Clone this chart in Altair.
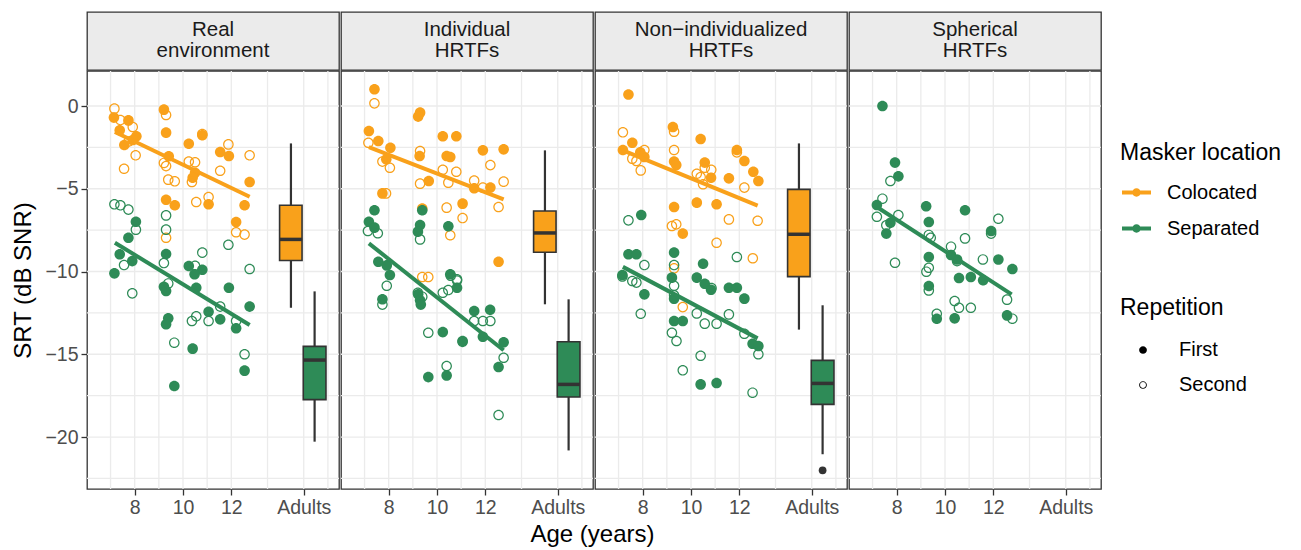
import altair as alt
import pandas as pd

FONT = "Liberation Sans"
ORANGE = "#F9A11B"
GREEN = "#2E8B57"
DARK = "#333333"
GRID = "#EBEBEB"

panel_titles = ["Real\nenvironment", "Individual\nHRTFs", "Non\u2212individualized\nHRTFs", "Spherical\nHRTFs"]
maskers = ["Colocated", "Separated"]
repetitions = ["First", "Second"]

x_tick_values = [8, 10, 12, 15]
x_tick_labels = ["8", "10", "12", "Adults"]
x_grid_values = [7, 8, 9, 10, 11, 12, 13.5, 15, 16]
y_tick_values = [0, -5, -10, -15, -20]
y_grid_values = [0, -2.5, -5, -7.5, -10, -12.5, -15, -17.5, -20, -22.5]
X_DOMAIN = [6.025, 16.46]
Y_DOMAIN = [-23.14, 2.115]

# ---- children: (age, SRT) ----
real_col_first = [(7.14,-0.70),(7.74,-0.87),(7.38,-1.47),(8.07,-1.83),(7.92,-2.05),(7.57,-2.36),(9.21,-0.22),(9.30,-1.61),(9.41,-3.04),(9.30,-5.66),(9.66,-6.00),(10.24,-2.28),(10.80,-1.77),(10.50,-4.03),(10.40,-4.33),(11.06,-5.94),(11.54,-2.78),(11.90,-3.02),(12.76,-4.59),(12.55,-6.00),(12.20,-7.01)]
real_col_second = [(7.16,-0.16),(7.41,-0.85),(7.92,-1.27),(7.75,-2.15),(8.04,-2.98),(7.56,-3.79),(9.30,-0.54),(9.21,-3.44),(9.30,-3.63),(9.39,-4.45),(9.66,-4.55),(9.30,-7.96),(10.80,-1.69),(10.24,-3.36),(10.50,-3.40),(10.37,-4.59),(10.55,-5.80),(11.06,-5.50),(11.88,-2.32),(11.54,-3.91),(12.76,-2.98),(12.20,-7.63),(12.55,-7.77)]
real_sep_first = [(8.05,-6.99),(7.74,-7.96),(7.38,-8.96),(7.90,-9.37),(7.16,-10.11),(9.30,-8.94),(10.24,-9.67),(10.80,-9.89),(10.48,-10.17),(9.21,-10.92),(9.30,-11.18),(10.55,-10.98),(11.90,-10.98),(12.76,-12.12),(11.06,-12.43),(11.54,-12.89),(12.20,-13.43),(9.39,-12.83),(9.30,-13.19),(10.40,-14.66),(12.55,-15.99),(9.64,-16.92)]
real_sep_second = [(7.16,-5.94),(7.41,-6.00),(7.74,-6.26),(8.05,-7.47),(7.56,-9.61),(7.90,-11.32),(9.30,-6.61),(9.30,-7.47),(9.21,-9.49),(10.50,-9.65),(10.80,-8.86),(11.88,-8.38),(12.76,-9.85),(9.39,-10.72),(11.54,-12.12),(10.55,-12.71),(10.37,-12.99),(11.06,-12.99),(12.20,-12.99),(9.64,-14.30),(12.55,-15.00)]

ind_col_first = [(7.41,1.01),(7.18,-1.51),(7.57,-2.11),(8.07,-2.52),(7.90,-3.22),(7.74,-5.28),(9.30,-0.40),(9.22,-0.64),(9.28,-3.02),(9.66,-4.53),(9.39,-6.20),(10.24,-1.83),(10.80,-1.83),(10.40,-3.02),(10.55,-3.08),(11.06,-5.90),(11.90,-2.68),(11.54,-4.97),(12.21,-4.93),(12.76,-2.62),(12.55,-9.41)]
ind_col_second = [(7.41,0.16),(7.16,-2.22),(7.74,-3.36),(8.05,-3.73),(7.89,-5.28),(9.30,-2.72),(9.30,-4.69),(10.24,-3.85),(10.80,-3.97),(10.47,-4.63),(10.40,-6.14),(11.06,-6.77),(10.55,-7.81),(12.21,-3.57),(11.54,-4.51),(11.90,-4.93),(12.76,-4.57),(12.55,-6.10),(9.39,-10.33),(9.64,-10.33)]
ind_sep_first = [(7.41,-6.30),(7.18,-6.99),(7.41,-7.35),(7.57,-9.41),(7.92,-9.63),(8.05,-10.21),(9.39,-6.30),(9.30,-7.19),(9.21,-7.59),(10.47,-7.27),(10.55,-10.17),(7.74,-11.68),(9.22,-11.38),(9.30,-11.74),(9.33,-12.00),(10.83,-10.98),(11.54,-12.39),(12.20,-12.31),(10.24,-13.66),(11.06,-14.20),(11.90,-13.94),(12.76,-14.28),(12.55,-15.77),(10.40,-16.28),(9.64,-16.38)]
ind_sep_second = [(7.14,-7.55),(7.55,-7.69),(9.30,-8.06),(10.83,-10.47),(7.92,-10.86),(7.74,-12.00),(9.21,-11.28),(9.39,-11.52),(10.57,-10.25),(10.83,-10.55),(10.47,-11.12),(10.24,-11.28),(11.54,-12.99),(11.90,-12.99),(12.21,-12.99),(9.64,-13.70),(11.06,-14.25),(12.76,-15.21),(10.40,-15.71),(12.55,-18.67)]

non_col_first = [(7.41,0.70),(7.57,-2.22),(7.18,-2.66),(7.90,-2.80),(8.07,-3.08),(9.25,-1.27),(9.30,-3.36),(9.39,-3.56),(9.30,-6.10),(9.66,-7.71),(10.40,-1.99),(10.57,-3.42),(10.83,-4.33),(10.24,-5.84),(11.06,-5.94),(11.90,-2.66),(12.21,-3.32),(11.57,-4.37),(12.58,-3.97),(12.79,-4.53)]
non_col_second = [(7.18,-1.59),(8.07,-2.66),(7.57,-3.18),(7.74,-3.32),(7.92,-3.89),(9.30,-1.55),(9.30,-2.66),(9.21,-7.25),(9.39,-7.15),(9.30,-9.81),(10.24,-4.09),(10.57,-3.73),(10.84,-3.85),(10.40,-4.29),(10.50,-4.73),(11.06,-8.26),(11.90,-2.80),(12.21,-4.93),(11.57,-6.85),(12.76,-6.93),(12.56,-9.20),(9.66,-12.15)]
non_sep_first = [(7.94,-6.59),(7.41,-8.96),(7.74,-8.96),(9.30,-8.86),(10.50,-9.53),(7.16,-10.21),(9.21,-10.37),(10.24,-10.37),(8.07,-11.38),(9.30,-11.64),(9.30,-12.99),(9.66,-12.99),(10.57,-10.74),(10.83,-11.10),(10.40,-16.82),(11.06,-16.74),(11.57,-10.98),(11.90,-10.98),(12.21,-11.64),(12.55,-14.36),(12.79,-14.50)]
non_sep_second = [(7.41,-6.91),(8.07,-9.61),(9.30,-9.61),(11.90,-9.12),(7.16,-10.30),(7.57,-10.57),(7.74,-10.67),(7.92,-12.55),(9.30,-10.86),(9.30,-11.44),(9.21,-13.70),(9.40,-14.20),(9.66,-15.97),(10.85,-11.00),(10.24,-12.53),(10.57,-13.15),(11.06,-13.15),(10.40,-15.09),(11.57,-12.59),(12.21,-13.76),(12.79,-15.00),(12.55,-17.32)]

sph_sep_first = [(7.41,0.00),(7.93,-3.42),(8.07,-4.25),(7.18,-5.98),(7.74,-7.05),(7.57,-7.71),(9.22,-6.06),(9.33,-7.01),(9.33,-9.12),(9.33,-10.88),(9.66,-12.85),(10.83,-6.30),(10.25,-9.00),(10.50,-9.27),(10.58,-10.39),(11.07,-10.33),(10.40,-12.83),(11.91,-7.55),(12.21,-9.27),(11.58,-10.53),(12.79,-9.85),(12.57,-12.65)]
sph_sep_second = [(7.74,-4.53),(7.41,-5.60),(7.18,-6.69),(8.07,-6.59),(7.57,-7.21),(7.93,-9.47),(9.33,-7.79),(9.41,-7.96),(9.33,-9.77),(9.23,-10.01),(9.33,-11.14),(9.66,-12.55),(10.83,-8.00),(10.25,-8.50),(10.50,-9.37),(10.40,-11.78),(10.58,-12.19),(11.07,-12.19),(12.21,-6.81),(11.91,-7.71),(11.57,-9.27),(12.57,-11.70),(12.79,-12.85)]

groups = [
    (0, "Colocated", "First", real_col_first), (0, "Colocated", "Second", real_col_second),
    (0, "Separated", "First", real_sep_first), (0, "Separated", "Second", real_sep_second),
    (1, "Colocated", "First", ind_col_first), (1, "Colocated", "Second", ind_col_second),
    (1, "Separated", "First", ind_sep_first), (1, "Separated", "Second", ind_sep_second),
    (2, "Colocated", "First", non_col_first), (2, "Colocated", "Second", non_col_second),
    (2, "Separated", "First", non_sep_first), (2, "Separated", "Second", non_sep_second),
    (3, "Separated", "First", sph_sep_first), (3, "Separated", "Second", sph_sep_second),
]

# ---- regression fits: SRT at the youngest and oldest child age ----
fit_age = [7.18, 12.76]
fit_real = {"Colocated": [-1.57, -5.48], "Separated": [-8.26, -13.23]}
fit_ind = {"Colocated": [-2.48, -5.64], "Separated": [-8.30, -14.76]}
fit_non = {"Colocated": [-2.68, -6.02], "Separated": [-9.72, -14.04]}
fit_sph = {"Separated": [-6.10, -11.38]}
fits = [fit_real, fit_ind, fit_non, fit_sph]

# ---- adults boxplots: lo, q1, median, q3, hi ----
box_x = {"Colocated": [14.0, 14.93, 14.47], "Separated": [14.98, 15.92, 15.45]}
box_real = {"Colocated": [-12.19, -9.33, -8.06, -6.00, -2.26], "Separated": [-20.28, -17.74, -15.35, -14.52, -11.20]}
box_ind = {"Colocated": [-11.98, -8.84, -7.67, -6.34, -2.68], "Separated": [-20.81, -17.58, -16.82, -14.24, -11.68]}
box_non = {"Colocated": [-13.51, -10.31, -7.75, -5.04, -2.26], "Separated": [-21.04, -18.03, -16.76, -15.37, -12.04]}
boxes = [box_real, box_ind, box_non, {}]
outliers = [[], [], [("Separated", -22.01)], []]

rows = []
for p, m, r, pts in groups:
    for a, s in pts:
        rows.append({"panel": p, "masker": m, "rep": r, "x": a, "y": s})
df_pts = pd.DataFrame(rows)

CIRCLE = "M1,0A1,1,0,1,1,-1,0A1,1,0,1,1,1,0Z"
RING = CIRCLE + "M0.77,0A0.77,0.77,0,1,0,-0.77,0A0.77,0.77,0,1,0,0.77,0Z"
LEG_LINE = "M-1,-0.13L1,-0.13L1,0.13L-1,0.13ZM0.29,0A0.29,0.29,0,1,1,-0.29,0A0.29,0.29,0,1,1,0.29,0Z"

color_scale = alt.Scale(domain=maskers, range=[ORANGE, GREEN])
shape_scale = alt.Scale(domain=repetitions, range=[CIRCLE, RING])

color_legend = alt.Legend(
    title="Masker location", orient="none", legendX=1033, legendY=130,
    symbolType=LEG_LINE, symbolSize=841, symbolStrokeWidth=0, symbolOpacity=1,
    titleFontSize=23, labelFontSize=20, titleFontWeight="normal", titleColor="black",
    labelColor="black", titlePadding=13, rowPadding=11, labelOffset=16, symbolOffset=2,
    titleFont=FONT, labelFont=FONT,
)
shape_legend = alt.Legend(
    title="Repetition", orient="none", legendX=1033, legendY=285,
    symbolSize=60, symbolFillColor="black", symbolStrokeColor="black", symbolStrokeWidth=0,
    symbolOpacity=1,
    titleFontSize=23, labelFontSize=20, titleFontWeight="normal", titleColor="black",
    labelColor="black", titlePadding=20, rowPadding=15, labelOffset=26, symbolOffset=13,
    titleFont=FONT, labelFont=FONT,
)

label_expr = " : ".join(
    [f"datum.value == {v} ? '{l}'" for v, l in zip(x_tick_values, x_tick_labels)] + ["datum.label"]
)


def make_panel(p):
    xs = alt.Scale(domain=X_DOMAIN, nice=False, zero=False)
    ys = alt.Scale(domain=Y_DOMAIN, nice=False, zero=False)
    xaxis = alt.Axis(
        values=x_tick_values, labelExpr=label_expr, grid=False, domain=False, title=None,
        tickColor=DARK, tickSize=6, tickWidth=1.3, labelColor="#4D4D4D", labelFontSize=19.5,
        labelFont=FONT, labelPadding=3, labelFlush=False,
    )
    if p == 0:
        yaxis = alt.Axis(values=y_tick_values, labelExpr="replace(datum.label, '-', '\u2212')",
                         grid=False, domain=False, tickColor=DARK, tickSize=6, tickWidth=1.3,
                         labelColor="#4D4D4D", labelFontSize=19.5, labelFont=FONT, labelPadding=3,
                         title="SRT (dB SNR)", titleFontSize=24, titleFontWeight="normal",
                         titleColor="black", titleFont=FONT, titlePadding=9)
    else:
        yaxis = None

    def X(f):
        return alt.X(f"{f}:Q", scale=xs, axis=xaxis)

    def Y(f):
        return alt.Y(f"{f}:Q", scale=ys, axis=yaxis)

    col = alt.Color("masker:N", scale=color_scale, legend=color_legend)

    xgrid = alt.Chart(pd.DataFrame({"x": x_grid_values})).mark_rule(
        color=GRID, strokeWidth=1.3).encode(x=X("x"))
    ygrid = alt.Chart(pd.DataFrame({"y": y_grid_values})).mark_rule(
        color=GRID, strokeWidth=1.3).encode(y=Y("y"))

    d = df_pts[df_pts.panel == p]
    pts = alt.Chart(d).mark_point(filled=True, size=112, opacity=1, strokeWidth=0).encode(
        x=X("x"), y=Y("y"), color=col,
        shape=alt.Shape("rep:N", scale=shape_scale, legend=shape_legend),
    )

    lrows = []
    for m, (s0, s1) in fits[p].items():
        lrows.append({"masker": m, "x": fit_age[0], "y": s0})
        lrows.append({"masker": m, "x": fit_age[1], "y": s1})
    lines = alt.Chart(pd.DataFrame(lrows)).mark_line(strokeWidth=4, strokeCap="butt").encode(
        x=X("x"), y=Y("y"), color=col, detail="masker:N")

    layers = [xgrid, ygrid, pts, lines]

    if boxes[p]:
        brows = []
        for m, (lo, q1, med, q3, hi) in boxes[p].items():
            x0, x1, xc = box_x[m]
            brows.append({"masker": m, "x0": x0, "x1": x1, "xc": xc,
                          "lo": lo, "q1": q1, "med": med, "q3": q3, "hi": hi})
        bdf = pd.DataFrame(brows)
        whisk = alt.Chart(bdf).mark_rule(color=DARK, strokeWidth=2.2).encode(
            x=X("xc"), y=Y("lo"), y2="hi")
        rect = alt.Chart(bdf).mark_rect(stroke=DARK, strokeWidth=1.6, opacity=1).encode(
            x=X("x0"), x2="x1", y=Y("q1"), y2="q3", color=col)
        med = alt.Chart(bdf).mark_rule(color=DARK, strokeWidth=3.5).encode(
            x=X("x0"), x2="x1", y=Y("med"))
        layers += [whisk, rect, med]
        if outliers[p]:
            odf = pd.DataFrame([{"x": box_x[m][2], "y": v} for m, v in outliers[p]])
            out = alt.Chart(odf).mark_circle(color=DARK, size=60, opacity=1).encode(
                x=X("x"), y=Y("y"))
            layers.append(out)

    return alt.layer(*layers).properties(
        width=252, height=418,
        view=alt.ViewBackground(fill="white", stroke=DARK, strokeWidth=1.3),
    )


def make_strip(p):
    return alt.Chart(pd.DataFrame({"t": [panel_titles[p]]})).mark_text(
        font=FONT, fontSize=20.5, lineHeight=21.3, lineBreak="\n", align="center",
        baseline="middle", color="#1A1A1A",
    ).encode(text="t:N", x=alt.value(126), y=alt.value(17.5)).properties(
        width=252, height=58,
        view=alt.ViewBackground(fill="#EBEBEB", stroke=DARK, strokeWidth=1.3),
    )


cols = [alt.vconcat(make_strip(p), make_panel(p), spacing=-3) for p in range(4)]
chart = alt.hconcat(*cols, spacing=-2).properties(
    padding={"left": 3, "top": 3, "right": 5, "bottom": 5},
    background="white",
    title=alt.TitleParams(
        "Age (years)", orient="bottom", anchor="start", frame="group", dx=505.5,
        align="center", fontSize=24, fontWeight="normal", font=FONT, color="black", offset=6,
    ),
).configure_view(stroke=DARK, strokeWidth=1.3).configure(font=FONT)

chart.save("out.html", embed_options={"renderer": "svg", "actions": False})
